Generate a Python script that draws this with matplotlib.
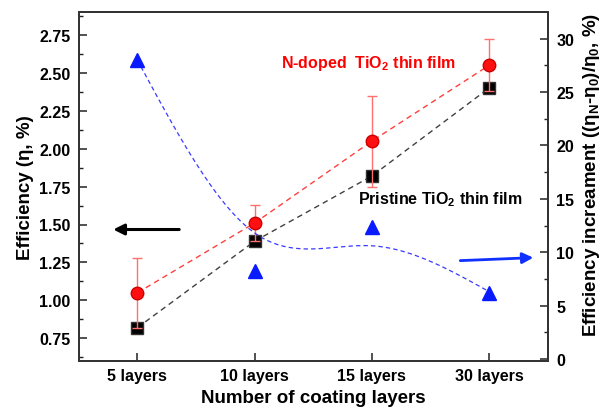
import numpy as np
import matplotlib.pyplot as plt

plt.rcParams['font.family'] = ['Liberation Sans', 'DejaVu Sans']
plt.rcParams['font.weight'] = 'bold'
plt.rcParams['mathtext.fontset'] = 'custom'
plt.rcParams['mathtext.rm'] = 'Liberation Sans'
plt.rcParams['mathtext.bf'] = 'Liberation Sans:bold'
plt.rcParams['mathtext.default'] = 'bf'

# data
layers = ['5 layers', '10 layers', '15 layers', '30 layers']
pristine = [0.82, 1.39, 1.82, 2.40]
ndoped = [1.05, 1.51, 2.05, 2.55]
ndoped_err = [0.23, 0.12, 0.30, 0.17]
increase = [28.0, 8.2, 12.4, 6.2]
# knots of the smoothed guide line for the efficiency increase
fit_knots = [28.0, 11.8, 10.6, 6.3]


def natural_spline(y, n=200):
    # natural cubic spline on unit-spaced knots
    y = np.asarray(y, float)
    k = len(y)
    A = np.zeros((k, k))
    b = np.zeros(k)
    A[0, 0] = A[-1, -1] = 1
    for i in range(1, k - 1):
        A[i, i - 1:i + 2] = [1, 4, 1]
        b[i] = 6 * (y[i - 1] - 2 * y[i] + y[i + 1])
    M = np.linalg.solve(A, b)
    xs = np.linspace(0, k - 1, n)
    ys = np.empty_like(xs)
    for j, xv in enumerate(xs):
        i = min(int(xv), k - 2)
        t = xv - i
        ys[j] = (M[i] * (1 - t) ** 3 / 6 + M[i + 1] * t ** 3 / 6
                 + (y[i] - M[i] / 6) * (1 - t) + (y[i + 1] - M[i + 1] / 6) * t)
    return xs, ys


x = np.arange(len(layers))

fig = plt.figure(figsize=(6.06, 4.10), dpi=100)
ax = fig.add_axes([0.130, 0.117, 0.774, 0.851])
ax2 = ax.twinx()

ax.plot(x, ndoped, '--', color='#ff4040', lw=1.0, dashes=(4, 3), zorder=2)
ax.plot(x, pristine, '--', color='#404040', lw=1.0, dashes=(4, 3), zorder=2)
ax.plot(x, pristine, 's', color='black', ms=8, mec='#333333', zorder=3)
ax.errorbar(x, ndoped, yerr=ndoped_err, fmt='none', ecolor='#ff7070',
            elinewidth=1.0, capsize=3.5, capthick=1.0, zorder=4)
ax.plot(x, ndoped, 'o', color='#ff1010', ms=9, mec='#cc0000', zorder=5)

fx, fy = natural_spline(fit_knots)
ax2.plot(fx, fy, '--', color='#3a3aff', lw=0.9, dashes=(3.5, 2.5))
ax2.plot(x, increase, '^', color='#0a1aff', ms=10, mec='#0a1aff')

ax.set_xlim(-0.5, 3.5)
ax.set_ylim(0.6, 2.9)
ax2.set_ylim(-0.2, 32.5)

ax.set_xticks(x)
ax.set_xticklabels(layers)
ax.set_yticks(np.arange(0.75, 2.8, 0.25))
ax.set_yticks(np.arange(0.625, 2.9, 0.125), minor=True)
ax2.set_yticks(np.arange(0, 31, 5))
ax2.set_yticks(np.arange(2.5, 32.5, 5), minor=True)

for a in (ax, ax2):
    a.tick_params(which='major', direction='in', length=6, width=1.1, labelsize=11.5,
                  colors='#222222', pad=6)
    a.tick_params(which='minor', direction='in', length=3, width=1.0, colors='#222222')
    for s in a.spines.values():
        s.set_linewidth(1.3)
        s.set_color('#333333')
    for lab in a.get_xticklabels() + a.get_yticklabels():
        lab.set_fontweight('bold')
        lab.set_color('black')
ax.tick_params(axis='x', pad=5)

ax.set_xlabel('Number of coating layers', fontsize=13.5, fontweight='bold', labelpad=4)
ax.set_ylabel('Efficiency (η, %)', fontsize=13.5, fontweight='bold', labelpad=4)
fig.text(591 / 606, 1 - 337 / 410, 'Efficiency increament ((η$_{N}$-η$_{0}$)/η$_{0}$, %)',
         rotation=90, ha='center', va='bottom', fontsize=13.5, fontweight='bold')

ax.text(1.97, 2.57, 'N-doped  TiO$_{2}$ thin film', color='red', fontsize=11.5,
        fontweight='bold', ha='center', va='center')
ax.text(2.58, 1.67, 'Pristine TiO$_{2}$ thin film', color='black', fontsize=11.5,
        fontweight='bold', ha='center', va='center')

ax.annotate('', xy=(-0.23, 1.467), xytext=(0.38, 1.467),
            arrowprops=dict(arrowstyle='-|>', color='black', lw=2.2, mutation_scale=16))
ax2.annotate('', xy=(3.40, 9.5), xytext=(2.73, 9.2),
             arrowprops=dict(arrowstyle='-|>', color='#1030ff', lw=2.0, mutation_scale=16))

fig.savefig('out.png', dpi=100)
